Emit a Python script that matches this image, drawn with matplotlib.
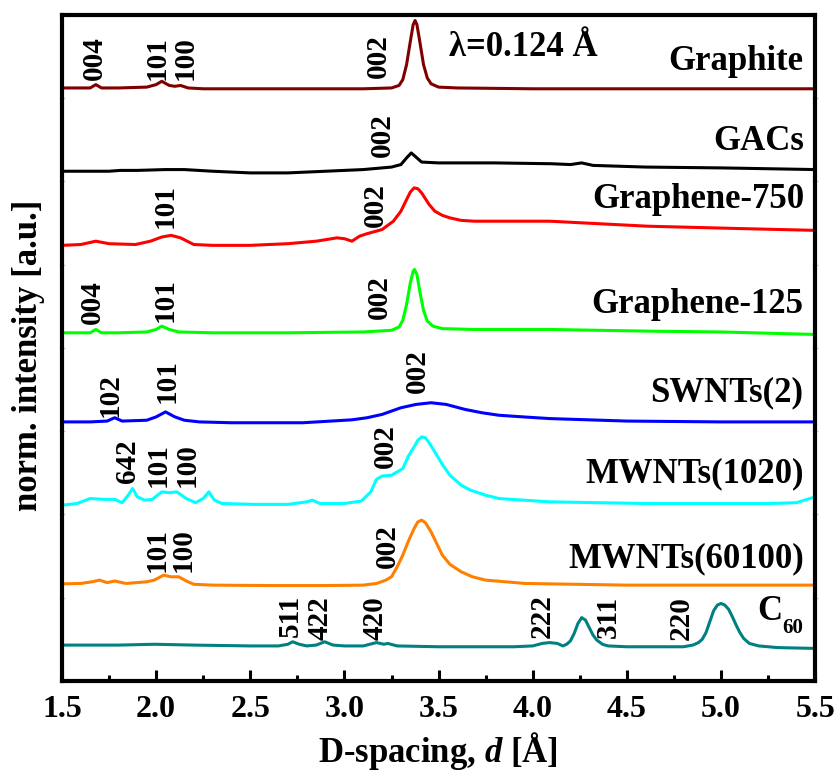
import matplotlib
matplotlib.use("Agg")
import matplotlib.pyplot as plt
from matplotlib.ticker import MultipleLocator

plt.rcParams['font.family'] = ['Liberation Serif', 'DejaVu Serif']
plt.rcParams['font.weight'] = 'bold'
plt.rcParams['mathtext.fontset'] = 'custom'
plt.rcParams['mathtext.rm'] = 'Liberation Serif:bold'
plt.rcParams['mathtext.it'] = 'Liberation Serif:italic:bold'
plt.rcParams['mathtext.bf'] = 'Liberation Serif:bold'

# stacked XRD patterns (offset intensity, a.u.) vs d-spacing
graphite_d = [1.50, 1.60, 1.65, 1.68, 1.71, 1.80, 1.95, 2.00, 2.03, 2.07, 2.10, 2.13, 2.17, 2.25,
              2.50, 2.80, 3.10, 3.25, 3.29, 3.31, 3.33, 3.35, 3.365, 3.375, 3.385, 3.40, 3.42,
              3.44, 3.46, 3.50, 3.60, 4.00, 4.50, 5.00, 5.50]
graphite_i = [7.12, 7.12, 7.12, 7.16, 7.12, 7.12, 7.13, 7.16, 7.20, 7.15, 7.14, 7.15, 7.12, 7.11,
              7.11, 7.11, 7.11, 7.12, 7.15, 7.22, 7.40, 7.68, 7.88, 7.93, 7.88, 7.68, 7.40,
              7.24, 7.17, 7.13, 7.12, 7.11, 7.11, 7.11, 7.11]

gacs_d = [1.50, 1.60, 1.75, 1.81, 1.90, 2.05, 2.15, 2.30, 2.50, 2.70, 2.90, 3.10, 3.25, 3.30,
          3.33, 3.355, 3.38, 3.41, 3.50, 3.80, 4.10, 4.20, 4.26, 4.32, 4.60, 5.00, 5.50]
gacs_i = [6.12, 6.12, 6.12, 6.13, 6.13, 6.14, 6.14, 6.12, 6.10, 6.10, 6.12, 6.14, 6.17, 6.20,
          6.28, 6.34, 6.29, 6.23, 6.22, 6.22, 6.21, 6.20, 6.22, 6.19, 6.17, 6.16, 6.14]

g750_d = [1.50, 1.60, 1.68, 1.75, 1.89, 1.97, 2.03, 2.08, 2.13, 2.20, 2.30, 2.50, 2.70, 2.85,
          2.96, 3.00, 3.04, 3.08, 3.12, 3.20, 3.26, 3.30, 3.33, 3.35, 3.37, 3.39, 3.41, 3.43,
          3.45, 3.48, 3.52, 3.56, 3.62, 3.69, 4.09, 4.61, 5.13, 5.50]
g750_i = [5.23, 5.24, 5.28, 5.25, 5.24, 5.28, 5.33, 5.35, 5.32, 5.24, 5.23, 5.23, 5.25, 5.28,
          5.32, 5.31, 5.28, 5.34, 5.37, 5.42, 5.52, 5.64, 5.78, 5.87, 5.92, 5.91, 5.86, 5.79,
          5.72, 5.64, 5.59, 5.56, 5.53, 5.52, 5.52, 5.46, 5.43, 5.41]

g125_d = [1.50, 1.60, 1.65, 1.68, 1.71, 1.80, 1.95, 2.00, 2.03, 2.07, 2.12, 2.30, 2.70, 3.10,
          3.25, 3.29, 3.31, 3.33, 3.35, 3.365, 3.372, 3.385, 3.40, 3.42, 3.44, 3.47, 3.52,
          3.69, 4.09, 4.61, 5.00, 5.50]
g125_i = [4.18, 4.18, 4.18, 4.22, 4.18, 4.18, 4.19, 4.22, 4.26, 4.22, 4.19, 4.18, 4.18, 4.19,
          4.21, 4.25, 4.33, 4.52, 4.78, 4.92, 4.94, 4.88, 4.68, 4.45, 4.32, 4.26, 4.23,
          4.22, 4.22, 4.20, 4.19, 4.16]

swnt_d = [1.50, 1.65, 1.74, 1.78, 1.82, 1.95, 2.00, 2.05, 2.10, 2.15, 2.23, 2.40, 2.78, 3.04,
          3.12, 3.20, 3.30, 3.38, 3.46, 3.54, 3.64, 3.73, 3.82, 3.95, 4.09, 4.50, 5.00, 5.50]
swnt_i = [3.11, 3.11, 3.12, 3.16, 3.12, 3.13, 3.17, 3.23, 3.17, 3.13, 3.11, 3.10, 3.10, 3.135,
          3.16, 3.20, 3.28, 3.32, 3.34, 3.32, 3.26, 3.22, 3.19, 3.17, 3.15, 3.12, 3.11, 3.11]

mw1020_d = [1.50, 1.58, 1.65, 1.72, 1.78, 1.82, 1.855, 1.875, 1.90, 1.94, 1.98, 2.03, 2.07,
            2.11, 2.16, 2.21, 2.25, 2.28, 2.31, 2.35, 2.52, 2.70, 2.80, 2.83, 2.87, 3.00, 3.09,
            3.14, 3.17, 3.20, 3.25, 3.31, 3.34, 3.37, 3.39, 3.41, 3.43, 3.45, 3.48, 3.52, 3.56,
            3.62, 3.67, 3.75, 3.82, 4.09, 4.60, 5.26, 5.40, 5.50]
mw1020_i = [2.11, 2.13, 2.19, 2.18, 2.18, 2.14, 2.24, 2.31, 2.21, 2.17, 2.18, 2.27, 2.26,
            2.27, 2.19, 2.14, 2.19, 2.27, 2.17, 2.13, 2.12, 2.12, 2.15, 2.17, 2.13, 2.13, 2.16,
            2.27, 2.42, 2.46, 2.47, 2.55, 2.70, 2.81, 2.89, 2.93, 2.92, 2.86, 2.75, 2.60, 2.47,
            2.35, 2.29, 2.23, 2.19, 2.15, 2.13, 2.13, 2.14, 2.21]

mw60100_d = [1.50, 1.60, 1.66, 1.70, 1.74, 1.78, 1.84, 1.95, 1.99, 2.04, 2.08, 2.12, 2.16,
             2.20, 2.30, 2.60, 2.90, 3.10, 3.17, 3.22, 3.25, 3.28, 3.31, 3.34, 3.37, 3.39,
             3.41, 3.43, 3.46, 3.49, 3.52, 3.56, 3.62, 3.68, 3.75, 3.96, 4.50, 5.50]
mw60100_i = [1.165, 1.17, 1.19, 1.21, 1.18, 1.20, 1.17, 1.19, 1.21, 1.27, 1.25, 1.25, 1.20,
             1.16, 1.15, 1.145, 1.145, 1.15, 1.17, 1.21, 1.25, 1.37, 1.51, 1.68, 1.83, 1.91,
             1.93, 1.90, 1.79, 1.65, 1.51, 1.40, 1.31, 1.25, 1.21, 1.17, 1.15, 1.15]

c60_d = [1.50, 1.80, 1.99, 2.20, 2.50, 2.65, 2.70, 2.725, 2.76, 2.80, 2.85, 2.895, 2.94, 3.00,
         3.10, 3.17, 3.21, 3.23, 3.28, 3.50, 3.90, 4.00, 4.05, 4.09, 4.13, 4.16, 4.18, 4.20,
         4.22, 4.24, 4.26, 4.28, 4.30, 4.32, 4.34, 4.37, 4.40, 4.50, 4.80, 4.85, 4.88, 4.90,
         4.92, 4.94, 4.96, 4.98, 5.00, 5.02, 5.04, 5.06, 5.08, 5.10, 5.12, 5.15, 5.20, 5.30,
         5.50]
c60_i = [0.43, 0.43, 0.44, 0.43, 0.42, 0.42, 0.44, 0.47, 0.44, 0.42, 0.43, 0.47, 0.43, 0.42,
         0.42, 0.46, 0.44, 0.45, 0.42, 0.41, 0.41, 0.42, 0.45, 0.46, 0.45, 0.42, 0.44, 0.48,
         0.57, 0.69, 0.76, 0.73, 0.64, 0.55, 0.49, 0.44, 0.42, 0.41, 0.41, 0.43, 0.46, 0.50,
         0.58, 0.71, 0.84, 0.91, 0.93, 0.91, 0.86, 0.77, 0.67, 0.58, 0.51, 0.45, 0.42, 0.40,
         0.39]

series = [
    (graphite_d, graphite_i, '#800000'),
    (gacs_d, gacs_i, '#000000'),
    (g750_d, g750_i, '#ff0000'),
    (g125_d, g125_i, '#00ff00'),
    (swnt_d, swnt_i, '#0000ff'),
    (mw1020_d, mw1020_i, '#00ffff'),
    (mw60100_d, mw60100_i, '#ff8000'),
    (c60_d, c60_i, '#008080'),
]

# sample names: (text, x, baseline y)
names = [
    ('Graphite', 5.435, 7.34),
    ('GACs', 5.44, 6.38),
    ('Graphene-750', 5.44, 5.68),
    ('Graphene-125', 5.435, 4.42),
    ('SWNTs(2)', 5.435, 3.36),
    ('MWNTs(1020)', 5.44, 2.38),
    ('MWNTs(60100)', 5.44, 1.36),
]

# Miller index labels: (text, d, bottom y)
peaks = [
    ('004', 1.67, 7.22), ('101', 2.005, 7.22), ('100', 2.153, 7.22), ('002', 3.18, 7.24),
    ('002', 3.20, 6.29),
    ('101', 2.047, 5.44), ('002', 3.163, 5.45),
    ('004', 1.664, 4.28), ('101', 2.047, 4.31), ('002', 3.185, 4.34),
    ('102', 1.755, 3.17), ('101', 2.058, 3.34), ('002', 3.39, 3.46),
    ('642', 1.85, 2.38), ('101', 2.01, 2.33), ('100', 2.164, 2.33), ('002', 3.216, 2.56),
    ('101', 2.005, 1.31), ('100', 2.145, 1.31), ('002', 3.226, 1.36),
    ('511', 2.71, 0.53), ('422', 2.87, 0.49), ('420', 3.163, 0.49),
    ('222', 4.05, 0.52), ('311', 4.40, 0.52), ('220', 4.79, 0.49),
]

fig = plt.figure(figsize=(8.37, 7.72), dpi=100)
ax = fig.add_axes([0.074, 0.118, 0.900, 0.863])

for d, inten, c in series:
    ax.plot(d, inten, color=c, lw=2.2, solid_joinstyle='round')

for txt, x, y in names:
    ax.text(x, y, txt, ha='right', va='baseline', fontsize=25, fontweight='bold')

ax.text(5.325, 0.73, 'C', ha='right', va='baseline', fontsize=25, fontweight='bold')
ax.text(5.325, 0.58, '60', ha='left', va='baseline', fontsize=15, fontweight='bold')

ax.text(3.556, 7.50, 'λ=0.124 Å', ha='left', va='baseline', fontsize=25, fontweight='bold')

for txt, x, y in peaks:
    ax.text(x, y, txt, rotation=90, ha='center', va='bottom', fontsize=21, fontweight='bold')

ax.set_xlim(1.5, 5.5)
ax.set_ylim(0, 8)
ax.xaxis.set_major_locator(MultipleLocator(0.5))
ax.xaxis.set_minor_locator(MultipleLocator(0.25))
ax.set_yticks(range(1, 8))
ax.set_yticklabels([])
ax.tick_params(axis='x', which='major', direction='in', length=8, width=2.2,
               labelsize=23, pad=10, top=False)
ax.tick_params(axis='x', which='minor', direction='in', length=4, width=2.2, top=False)
ax.tick_params(axis='y', which='major', direction='inout', length=4, width=0.8,
               color='#c8c8c8', left=True, right=True)
for lbl in ax.get_xticklabels():
    lbl.set_fontweight('bold')
for s in ax.spines.values():
    s.set_linewidth(3)

# axis titles placed in figure coordinates
fig.text(0.523, 0.013, 'D-spacing, $\\mathit{d}$ [Å]', ha='center', va='baseline',
         fontsize=25, fontweight='bold')
fig.text(0.034, 0.54, 'norm. intensity [a.u.]', rotation=90, ha='center', va='center',
         fontsize=25, fontweight='bold')

fig.savefig('out.png', dpi=100)
